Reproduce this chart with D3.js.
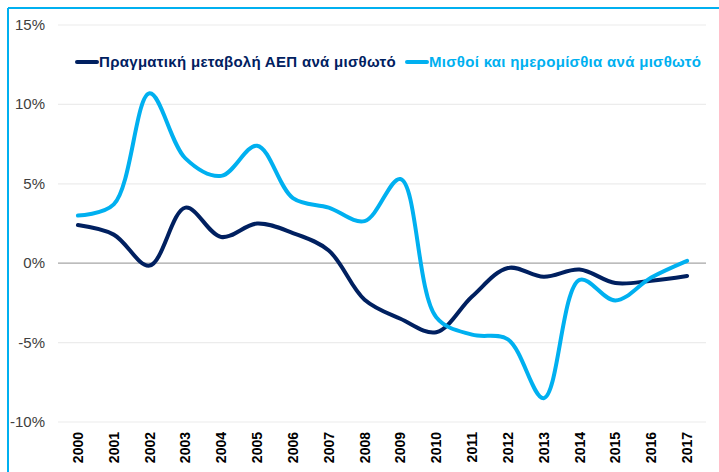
<!DOCTYPE html>
<html>
<head>
  <meta charset="utf-8">
  <title>ΑΕΠ και μισθοί ανά μισθωτό</title>
  <script src="https://d3js.org/d3.v7.min.js"></script>
  <style>
    body { margin: 0; background: #fff; }
    text { font-family: "Liberation Sans", Arial, sans-serif; }
  </style>
</head>
<body>
  <script>
  // data (% change)
  var years = ["2000","2001","2002","2003","2004","2005","2006","2007","2008",
               "2009","2010","2011","2012","2013","2014","2015","2016","2017"];
  var gdpPerEmployee = [2.4, 1.8, -0.15, 3.5, 1.65, 2.5, 1.9, 0.8, -2.3,
                        -3.5, -4.35, -2.1, -0.3, -0.85, -0.4, -1.25, -1.1, -0.8];
  var wagesPerEmployee = [3.0, 3.7, 10.7, 6.6, 5.5, 7.4, 4.1, 3.5, 2.65,
                          5.3, -3.4, -4.5, -4.8, -8.5, -1.05, -2.35, -0.9, 0.15];
  var yTicks = [-10, -5, 0, 5, 10, 15];
  var seriesNames = ["Πραγματική μεταβολή ΑΕΠ ανά μισθωτό", "Μισθοί και ημερομίσθια ανά μισθωτό"];
  var seriesColors = ["#002060", "#00b0f0"];

  var width = 719, height = 472;
  var svg = d3.select("body").append("svg").attr("width", width).attr("height", height);

  var x = d3.scalePoint().domain(years).range([60, 705]).padding(0.5);
  var y = d3.scaleLinear().domain([-10, 15]).range([422, 25]);

  // frame (top and left)
  svg.append("line").attr("x1", 8).attr("x2", width).attr("y1", 8).attr("y2", 8)
    .attr("stroke", "#00b0f0").attr("stroke-width", 2);
  svg.append("line").attr("x1", 8).attr("x2", 8).attr("y1", 8).attr("y2", height)
    .attr("stroke", "#00b0f0").attr("stroke-width", 2);

  // gridlines
  svg.selectAll(".grid").data(yTicks).enter().append("line")
    .attr("x1", 58).attr("x2", 706)
    .attr("y1", function(d) { return y(d); }).attr("y2", function(d) { return y(d); })
    .attr("stroke", function(d) { return d === 0 ? "#a6a6a6" : "#ececec"; })
    .attr("stroke-width", 1.2);

  // y labels
  svg.selectAll(".ylab").data(yTicks).enter().append("text")
    .attr("x", 45).attr("y", function(d) { return y(d) + 5; })
    .attr("text-anchor", "end")
    .attr("font-size", "15px").attr("fill", "#404040")
    .text(function(d) { return d + "%"; });

  // x labels
  svg.selectAll(".xlab").data(years).enter().append("text")
    .attr("transform", function(d) { return "translate(" + (x(d) + 5) + ",432) rotate(-90)"; })
    .attr("text-anchor", "end")
    .attr("font-size", "14px").attr("font-weight", "bold").attr("fill", "#000")
    .text(function(d) { return d; });

  // lines
  var line = d3.line()
    .x(function(d, i) { return x(years[i]); })
    .y(function(d) { return y(d); })
    .curve(d3.curveCatmullRom.alpha(0.5));

  [gdpPerEmployee, wagesPerEmployee].forEach(function(s, k) {
    svg.append("path").datum(s)
      .attr("d", line)
      .attr("fill", "none")
      .attr("stroke", seriesColors[k])
      .attr("stroke-width", 4)
      .attr("stroke-linejoin", "round")
      .attr("stroke-linecap", "round");
  });

  // legend
  var legendX = [77, 407];
  seriesNames.forEach(function(name, k) {
    var g = svg.append("g").attr("transform", "translate(" + legendX[k] + ",62)");
    g.append("line").attr("x1", 0).attr("x2", 20).attr("y1", 0).attr("y2", 0)
      .attr("stroke", seriesColors[k]).attr("stroke-width", 4).attr("stroke-linecap", "round");
    g.append("text").attr("x", 22).attr("y", 5)
      .attr("font-size", "15px").attr("font-weight", "bold")
      .attr("letter-spacing", "0.3px")
      .attr("fill", seriesColors[k])
      .text(name);
  });
  </script>
</body>
</html>
